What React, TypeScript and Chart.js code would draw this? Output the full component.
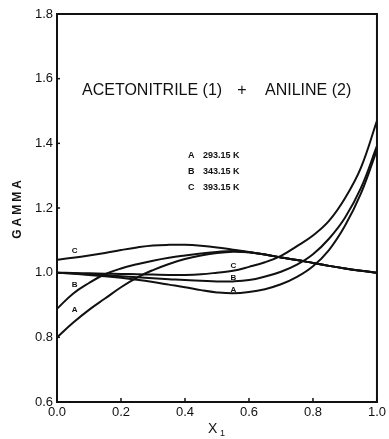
import { useEffect, useRef } from "react";
import { Chart, registerables } from "chart.js";

Chart.register(...registerables);

// Mole fraction of acetonitrile
const xValues = [0, 0.05, 0.1, 0.15, 0.2, 0.25, 0.3, 0.35, 0.4, 0.45, 0.5, 0.55, 0.6, 0.65, 0.7, 0.75, 0.8, 0.85, 0.9, 0.95, 1.0];

// gamma1 (acetonitrile) curves
const gamma1A = [0.8, 0.845, 0.885, 0.92, 0.955, 0.985, 1.008, 1.027, 1.042, 1.053, 1.061, 1.065, 1.063, 1.056, 1.047, 1.039, 1.03, 1.021, 1.013, 1.006, 1.0];
const gamma1B = [0.888, 0.935, 0.968, 0.995, 1.013, 1.026, 1.037, 1.046, 1.053, 1.059, 1.064, 1.067, 1.063, 1.056, 1.047, 1.039, 1.03, 1.021, 1.013, 1.006, 1.0];
const gamma1C = [1.04, 1.046, 1.053, 1.061, 1.07, 1.078, 1.084, 1.086, 1.086, 1.083, 1.078, 1.071, 1.064, 1.056, 1.047, 1.039, 1.03, 1.021, 1.013, 1.006, 1.0];

// gamma2 (aniline) curves
const gamma2A = [1.0, 0.997, 0.993, 0.989, 0.984, 0.978, 0.971, 0.963, 0.955, 0.946, 0.939, 0.936, 0.94, 0.949, 0.964, 0.987, 1.02, 1.07, 1.145, 1.245, 1.38];
const gamma2B = [1.0, 0.998, 0.995, 0.992, 0.989, 0.986, 0.983, 0.98, 0.977, 0.975, 0.973, 0.973, 0.977, 0.988, 1.003, 1.025, 1.057, 1.105, 1.17, 1.262, 1.392];
const gamma2C = [1.0, 0.999, 0.998, 0.997, 0.996, 0.995, 0.994, 0.993, 0.993, 0.995, 1.0, 1.006, 1.018, 1.032, 1.052, 1.082, 1.115, 1.16, 1.23, 1.325, 1.47];

const xTicks = [0, 0.2, 0.4, 0.6, 0.8, 1.0];
const yTicks = [0.6, 0.8, 1.0, 1.2, 1.4, 1.6, 1.8];

const titleLeft = "ACETONITRILE (1)";
const titlePlus = "+";
const titleRight = "ANILINE (2)";
const legendKeys = ["A", "B", "C"];
const legendTemps = ["293.15 K", "343.15 K", "393.15 K"];
const yAxisTitle = "GAMMA";
const xAxisTitle = "X";
const xAxisSub = "1";

// curve label anchors (data coordinates)
const startLabelX = 0.055;
const startLabelY = [0.885, 0.962, 1.067];
const midLabelX = 0.551;
const midLabelY = [0.947, 0.985, 1.022];

const FONT = '"Liberation Sans", Arial, Helvetica, sans-serif';

const toPts = (ys: number[]) => xValues.map((x, i) => ({ x, y: ys[i] }));

const decorPlugin = {
  id: "decor",
  afterDraw(chart: any) {
    const { ctx, chartArea, scales } = chart;
    const xs = scales.x;
    const ys = scales.y;
    ctx.save();
    ctx.fillStyle = "#111";
    ctx.strokeStyle = "#111";

    // frame
    ctx.lineWidth = 2;
    ctx.strokeRect(chartArea.left, chartArea.top, chartArea.right - chartArea.left, chartArea.bottom - chartArea.top);

    // inner ticks on x axis
    ctx.lineWidth = 1.5;
    xTicks.forEach((v) => {
      const px = xs.getPixelForValue(v);
      ctx.beginPath();
      ctx.moveTo(px, chartArea.bottom);
      ctx.lineTo(px, chartArea.bottom - 4);
      ctx.stroke();
    });
    yTicks.forEach((v) => {
      const py = ys.getPixelForValue(v);
      ctx.beginPath();
      ctx.moveTo(chartArea.left, py);
      ctx.lineTo(chartArea.left + 3, py);
      ctx.stroke();
    });

    // title
    ctx.font = `16px ${FONT}`;
    ctx.textBaseline = "alphabetic";
    ctx.textAlign = "left";
    ctx.fillText(titleLeft, 82, 95);
    ctx.textAlign = "center";
    ctx.fillText(titlePlus, 242, 95);
    ctx.textAlign = "left";
    ctx.fillText(titleRight, 265, 95);

    // legend
    ctx.font = `bold 9px ${FONT}`;
    legendKeys.forEach((k, i) => {
      const by = 158 + i * 16;
      ctx.textAlign = "left";
      ctx.fillText(k, 188, by);
      ctx.fillText(legendTemps[i], 203, by);
    });

    // curve labels
    ctx.font = `bold 8px ${FONT}`;
    ctx.textAlign = "center";
    ctx.textBaseline = "middle";
    legendKeys.forEach((k, i) => {
      ctx.fillText(k, xs.getPixelForValue(startLabelX), ys.getPixelForValue(startLabelY[i]));
      ctx.fillText(k, xs.getPixelForValue(midLabelX), ys.getPixelForValue(midLabelY[i]));
    });

    // axis titles
    ctx.font = `bold 12px ${FONT}`;
    ctx.save();
    ctx.translate(18, 208);
    ctx.rotate(-Math.PI / 2);
    (ctx as any).letterSpacing = "3px";
    ctx.textAlign = "center";
    ctx.textBaseline = "middle";
    ctx.fillText(yAxisTitle, 0, 0);
    ctx.restore();

    ctx.font = `14px ${FONT}`;
    ctx.textAlign = "left";
    ctx.textBaseline = "alphabetic";
    ctx.fillText(xAxisTitle, 208, 433);
    ctx.font = `9px ${FONT}`;
    ctx.fillText(xAxisSub, 220, 436);

    ctx.restore();
  },
};

export default function App() {
  const ref = useRef<HTMLCanvasElement | null>(null);

  useEffect(() => {
    if (!ref.current) return;
    const line = (data: number[]) => ({
      data: toPts(data),
      borderColor: "#111",
      borderWidth: 2,
      pointRadius: 0,
      tension: 0.4,
      fill: false,
    });
    const chart = new Chart(ref.current, {
      type: "line",
      data: {
        datasets: [
          line(gamma1A),
          line(gamma1B),
          line(gamma1C),
          line(gamma2A),
          line(gamma2B),
          line(gamma2C),
        ],
      },
      options: {
        responsive: false,
        animation: false,
        devicePixelRatio: 1,
        layout: { padding: { left: 0, top: 14, right: 7, bottom: 0 }, autoPadding: false },
        plugins: { legend: { display: false }, tooltip: { enabled: false } },
        scales: {
          x: {
            type: "linear",
            min: 0,
            max: 1,
            afterFit: (s: any) => {
              s.height = 37;
            },
            afterBuildTicks: (s: any) => {
              s.ticks = xTicks.map((v) => ({ value: v }));
            },
            ticks: {
              callback: (v: any) => Number(v).toFixed(1),
              font: { family: FONT, size: 13 },
              color: "#111",
              padding: 3,
              maxRotation: 0,
              autoSkip: false,
            },
            grid: { display: false, drawTicks: false },
            border: { display: false },
          },
          y: {
            type: "linear",
            min: 0.6,
            max: 1.8,
            afterFit: (s: any) => {
              s.width = 57;
            },
            afterBuildTicks: (s: any) => {
              s.ticks = yTicks.map((v) => ({ value: v }));
            },
            ticks: {
              callback: (v: any) => Number(v).toFixed(1),
              font: { family: FONT, size: 13 },
              color: "#111",
              padding: 4,
              autoSkip: false,
            },
            grid: { display: false, drawTicks: false },
            border: { display: false },
          },
        },
      },
      plugins: [decorPlugin],
    } as any);
    return () => chart.destroy();
  }, []);

  return (
    <div style={{ position: "fixed", left: 0, top: 0, width: 389, height: 439, background: "#fff" }}>
      <canvas ref={ref} width={389} height={439} style={{ display: "block" }} />
    </div>
  );
}
